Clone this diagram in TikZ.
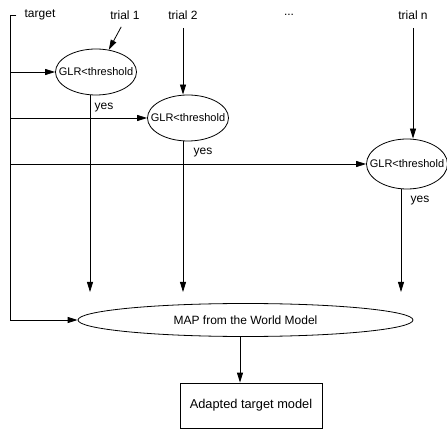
\documentclass[tikz,border=0pt]{standalone}
\usepackage{fontspec}
\setmainfont{Liberation Sans}
\usetikzlibrary{arrows.meta,shapes.geometric}

\tikzset{
  glr/.style={ellipse, draw, inner sep=0pt, minimum width=81pt, minimum height=46pt,
    font=\fontsize{11}{13}\selectfont},
  flow/.style={-{Triangle[length=10pt,width=6pt]}},
  plain/.style={inner sep=0pt}
}

\begin{document}
\begin{tikzpicture}[x=1pt, y=-1pt, font=\fontsize{12}{14}\selectfont, line width=0.8pt]
    \useasboundingbox (0,0) rectangle (447,430);

    % Inputs along the top
    \node[plain] (target) at (40,15) {target};
    \foreach \name/\x/\label in {trial1/125/trial 1, trial2/183/trial 2, trialn/413/trial n} {
        \node[plain] (\name) at (\x,15) {\label};
    }
    \node[plain] (dots) at (289,15) {...};

    % Threshold tests
    \node[glr] (glr1) at (96,72) {\makebox[0pt]{GLR<threshold}};
    \node[glr] (glr2) at (188,118) {\makebox[0pt]{GLR<threshold}};
    \node[glr, minimum height=50pt] (glr3) at (407,164) {\makebox[0pt]{GLR<threshold}};

    % MAP and adapted model
    \node[ellipse, draw, inner sep=0pt, minimum width=335pt, minimum height=33pt] (map) at (245.5,320) {\makebox[0pt]{MAP from the World Model}};
    \node[draw, minimum width=142pt, minimum height=45pt, font=\fontsize{12.8}{15}\selectfont] (model) at (251,405.5) {Adapted target model};

    % Target line on the left
    \coordinate (tline) at (10,0);
    \draw[flow] ([xshift=-8pt]target.west) -| (tline |- map.west) -- (map.west);
    \foreach \i in {1,2,3} {
        \draw[flow] (tline |- glr\i.west) -- (glr\i.west);
    }

    % Trials into the tests
    \draw[flow, shorten <=8pt] (trial1.south) -- (glr1.60);
    \draw[flow, shorten <=8pt] (trial2.south) -- (trial2.south |- glr2.north);
    \draw[flow, shorten <=8pt] (trialn.south) -- (trialn.south |- glr3.north);

    % Accepted trials down to the MAP
    \foreach \i/\x/\lx/\ly in {1/90/104/108, 2/183/203/153, 3/401/420/201} {
        \coordinate (in\i) at (\x,292);
        \draw[flow] (glr\i.south -| in\i) -- (in\i);
        \node[plain] (yes\i) at (\lx,\ly) {yes};
    }

    % MAP to adapted model
    \draw[flow] ([xshift=-5.5pt]map.south) -- ([xshift=-5.5pt]map.south |- model.north);
\end{tikzpicture}
\end{document}
